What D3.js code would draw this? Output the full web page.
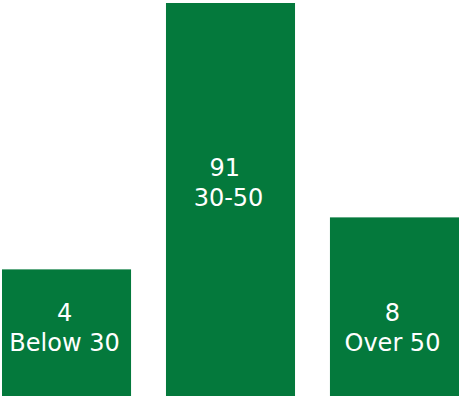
<!DOCTYPE html>
<html>
<head>
<meta charset="utf-8">
<script src="https://cdn.jsdelivr.net/npm/d3@7"></script>
<style>
  html, body { margin: 0; padding: 0; background: #fff; }
  .bar-label { font-family: "DejaVu Sans", sans-serif; font-size: 24px; fill: #fff; white-space: pre; }
</style>
</head>
<body>
<svg id="chart"></svg>
<script>
// age groups and counts
var categories = ["Below 30", "30-50", "Over 50"];
var counts = [4, 91, 8];
var valueLabels = ["4", "91 ", "8"];

var width = 462, height = 398;
var color = "#04793c";

var svg = d3.select("#chart")
  .attr("width", width)
  .attr("height", height);

var x = d3.scaleBand()
  .domain(categories)
  .range([2, 459])
  .paddingInner(0.213)
  .paddingOuter(0);

// bars are not linear in the reference, a symlog scale fits them
var y = d3.scaleSymlog()
  .constant(1.4)
  .domain([0, 91])
  .range([396, 3]);

var data = categories.map(function(c, i) {
  return { cat: c, value: counts[i], label: valueLabels[i] };
});

var g = svg.selectAll("g.bar")
  .data(data)
  .enter().append("g")
  .attr("class", "bar");

g.append("rect")
  .attr("x", function(d) { return x(d.cat); })
  .attr("y", function(d) { return y(d.value); })
  .attr("width", x.bandwidth())
  .attr("height", function(d) { return y(0) - y(d.value); })
  .attr("fill", color);

// label block: short bars keep it a fixed distance from the baseline
function labelMid(d) {
  var top = y(d.value), h = y(0) - top;
  return h > 250 ? top + h * 0.455 : y(0) - 69;
}

var text = g.append("text")
  .attr("class", "bar-label")
  .attr("text-anchor", "middle");

text.append("tspan")
  .attr("x", function(d) { return x(d.cat) + x.bandwidth() / 2 - 2; })
  .attr("y", function(d) { return labelMid(d) - 6; })
  .text(function(d) { return d.label; });

text.append("tspan")
  .attr("x", function(d) { return x(d.cat) + x.bandwidth() / 2 - 2; })
  .attr("y", function(d) { return labelMid(d) + 24; })
  .text(function(d) { return d.cat; });
</script>
</body>
</html>
